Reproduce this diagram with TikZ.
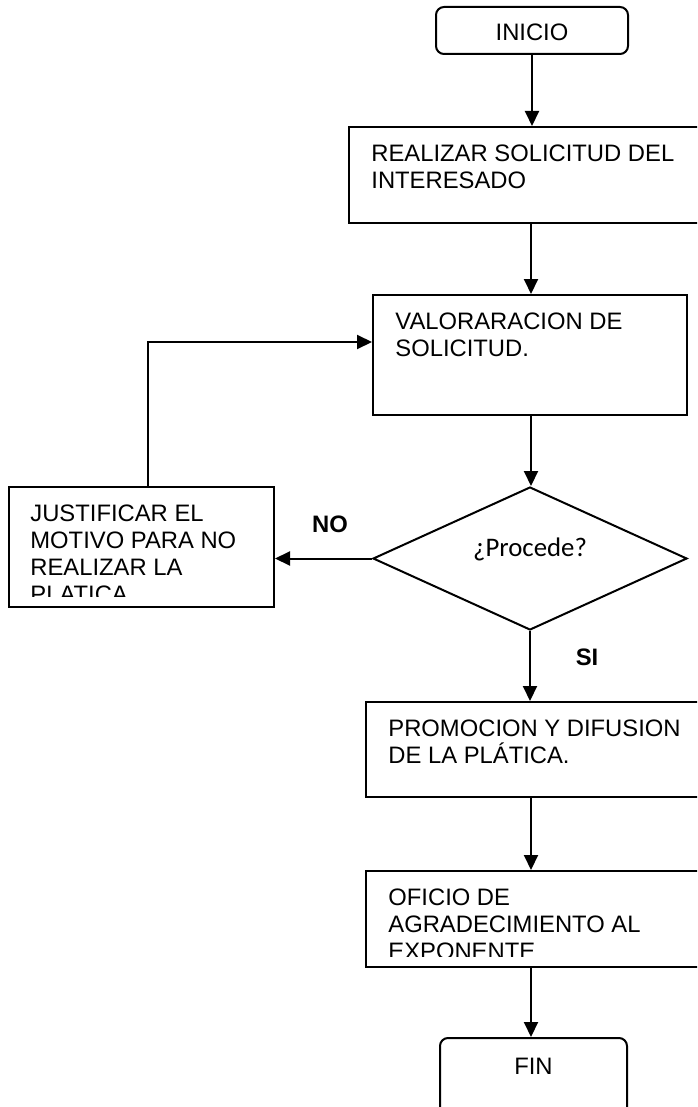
\documentclass[tikz,border=0pt]{standalone}
\usepackage{fontspec}
\setmainfont{Liberation Sans}
\newfontfamily\calib{Carlito}
\usetikzlibrary{arrows.meta,positioning,shapes.geometric}
\tikzset{
  bx/.style={rectangle,draw=black,line width=1pt,inner sep=0pt},
  tm/.style={bx,rounded corners=4pt},
  dc/.style={diamond,draw=black,line width=1pt,inner sep=0pt},
  tx/.style={anchor=north west,inner sep=0pt,align=left,font=\fontsize{11.9}{13.65}\selectfont},
  tt/.style={anchor=base,inner sep=0pt,font=\fontsize{11.9}{13.65}\selectfont},
  qt/.style={anchor=base,inner sep=0pt,font=\calib\fontsize{13.4}{16}\selectfont},
  lab/.style={anchor=base,inner sep=0pt,font=\fontsize{11.9}{13.65}\selectfont\bfseries},
  ctl/.style={draw=black,line width=1pt,-{Triangle[length=7.5pt,width=7pt]}},
}
\begin{document}
\begin{tikzpicture}[x=0.5pt,y=-0.5pt]
\useasboundingbox (0,0) rectangle (697,1107);
\clip (0,0) rectangle (697,1107);
\fill[white] (0,0) rectangle (697,1107);
\coordinate (col) at (531,0);
% Main column of steps; the wide boxes run past the right edge.
\node[tm,minimum width=96pt,minimum height=23.5pt] (ini) at (532,30.5) {};
\node[tt] (ini-t) at ([yshift=-17.5pt]ini.north) {INICIO};
\node[bx,minimum width=183pt,minimum height=48pt] (req) at (532,175) {};
\node[tx] (req-t) at ([xshift=11.5pt,yshift=-9pt]req.north west) {REALIZAR SOLICITUD DEL\\INTERESADO};
\node[bx,minimum width=157pt,minimum height=60pt] (val) at (530,355) {};
\node[tx] (val-t) at ([xshift=11.5pt,yshift=-9pt]val.north west) {VALORARACION DE\\SOLICITUD.};
\node[dc,minimum width=157pt,minimum height=71.5pt] (dec) at (530,558.5) {};
\node[qt] (q) at ([yshift=1.25pt]dec.center) {¿Procede?};
\node[bx,minimum width=132.5pt,minimum height=60pt] (just) at (141.5,547) {};
\begin{scope}
\clip (just.north west) rectangle ([yshift=6pt]just.south east);
\node[tx] (just-t) at ([xshift=11pt,yshift=-9pt]just.north west) {JUSTIFICAR EL\\MOTIVO PARA NO\\REALIZAR LA\\PLATICA};
\end{scope}
\node[bx,minimum width=174.5pt,minimum height=47.5pt] (prom) at (540.5,749.5) {};
\node[tx] (prom-t) at ([xshift=11.5pt,yshift=-9pt]prom.north west) {PROMOCION Y DIFUSION\\DE LA PLÁTICA.};
\node[bx,minimum width=174.5pt,minimum height=48pt] (ofi) at (540.5,919) {};
\begin{scope}
\clip (ofi.north west) rectangle ([yshift=6pt]ofi.south east);
\node[tx] (ofi-t) at ([xshift=11.5pt,yshift=-9pt]ofi.north west) {OFICIO DE\\AGRADECIMIENTO AL\\EXPONENTE};
\end{scope}
\node[tm,minimum width=93.5pt,minimum height=40pt] (fin) at (533.5,1078) {};
\node[tt] (fin-t) at ([yshift=-18.5pt]fin.north) {FIN};
\node[lab] (no) at (330,532) {NO};
\node[lab] (si) at (587,665) {SI};
% Flow down the column, with the NO branch looping back.
\draw[ctl] (ini.south) -- (req.north -| ini.south);
\draw[ctl] (req.south -| col) -- (val.north -| col);
\draw[ctl] (val.south -| col) -- (dec.north -| col);
\draw[ctl] (dec.west) -- (dec.west -| just.east);
\draw[ctl] ([xshift=3.25pt]just.north) |- ([yshift=6.5pt]val.west);
\draw[ctl] (dec.south) -- (prom.north -| dec.south);
\draw[ctl] (prom.south -| col) -- (ofi.north -| col);
\draw[ctl] (ofi.south -| col) -- (fin.north -| col);
\end{tikzpicture}
\end{document}
